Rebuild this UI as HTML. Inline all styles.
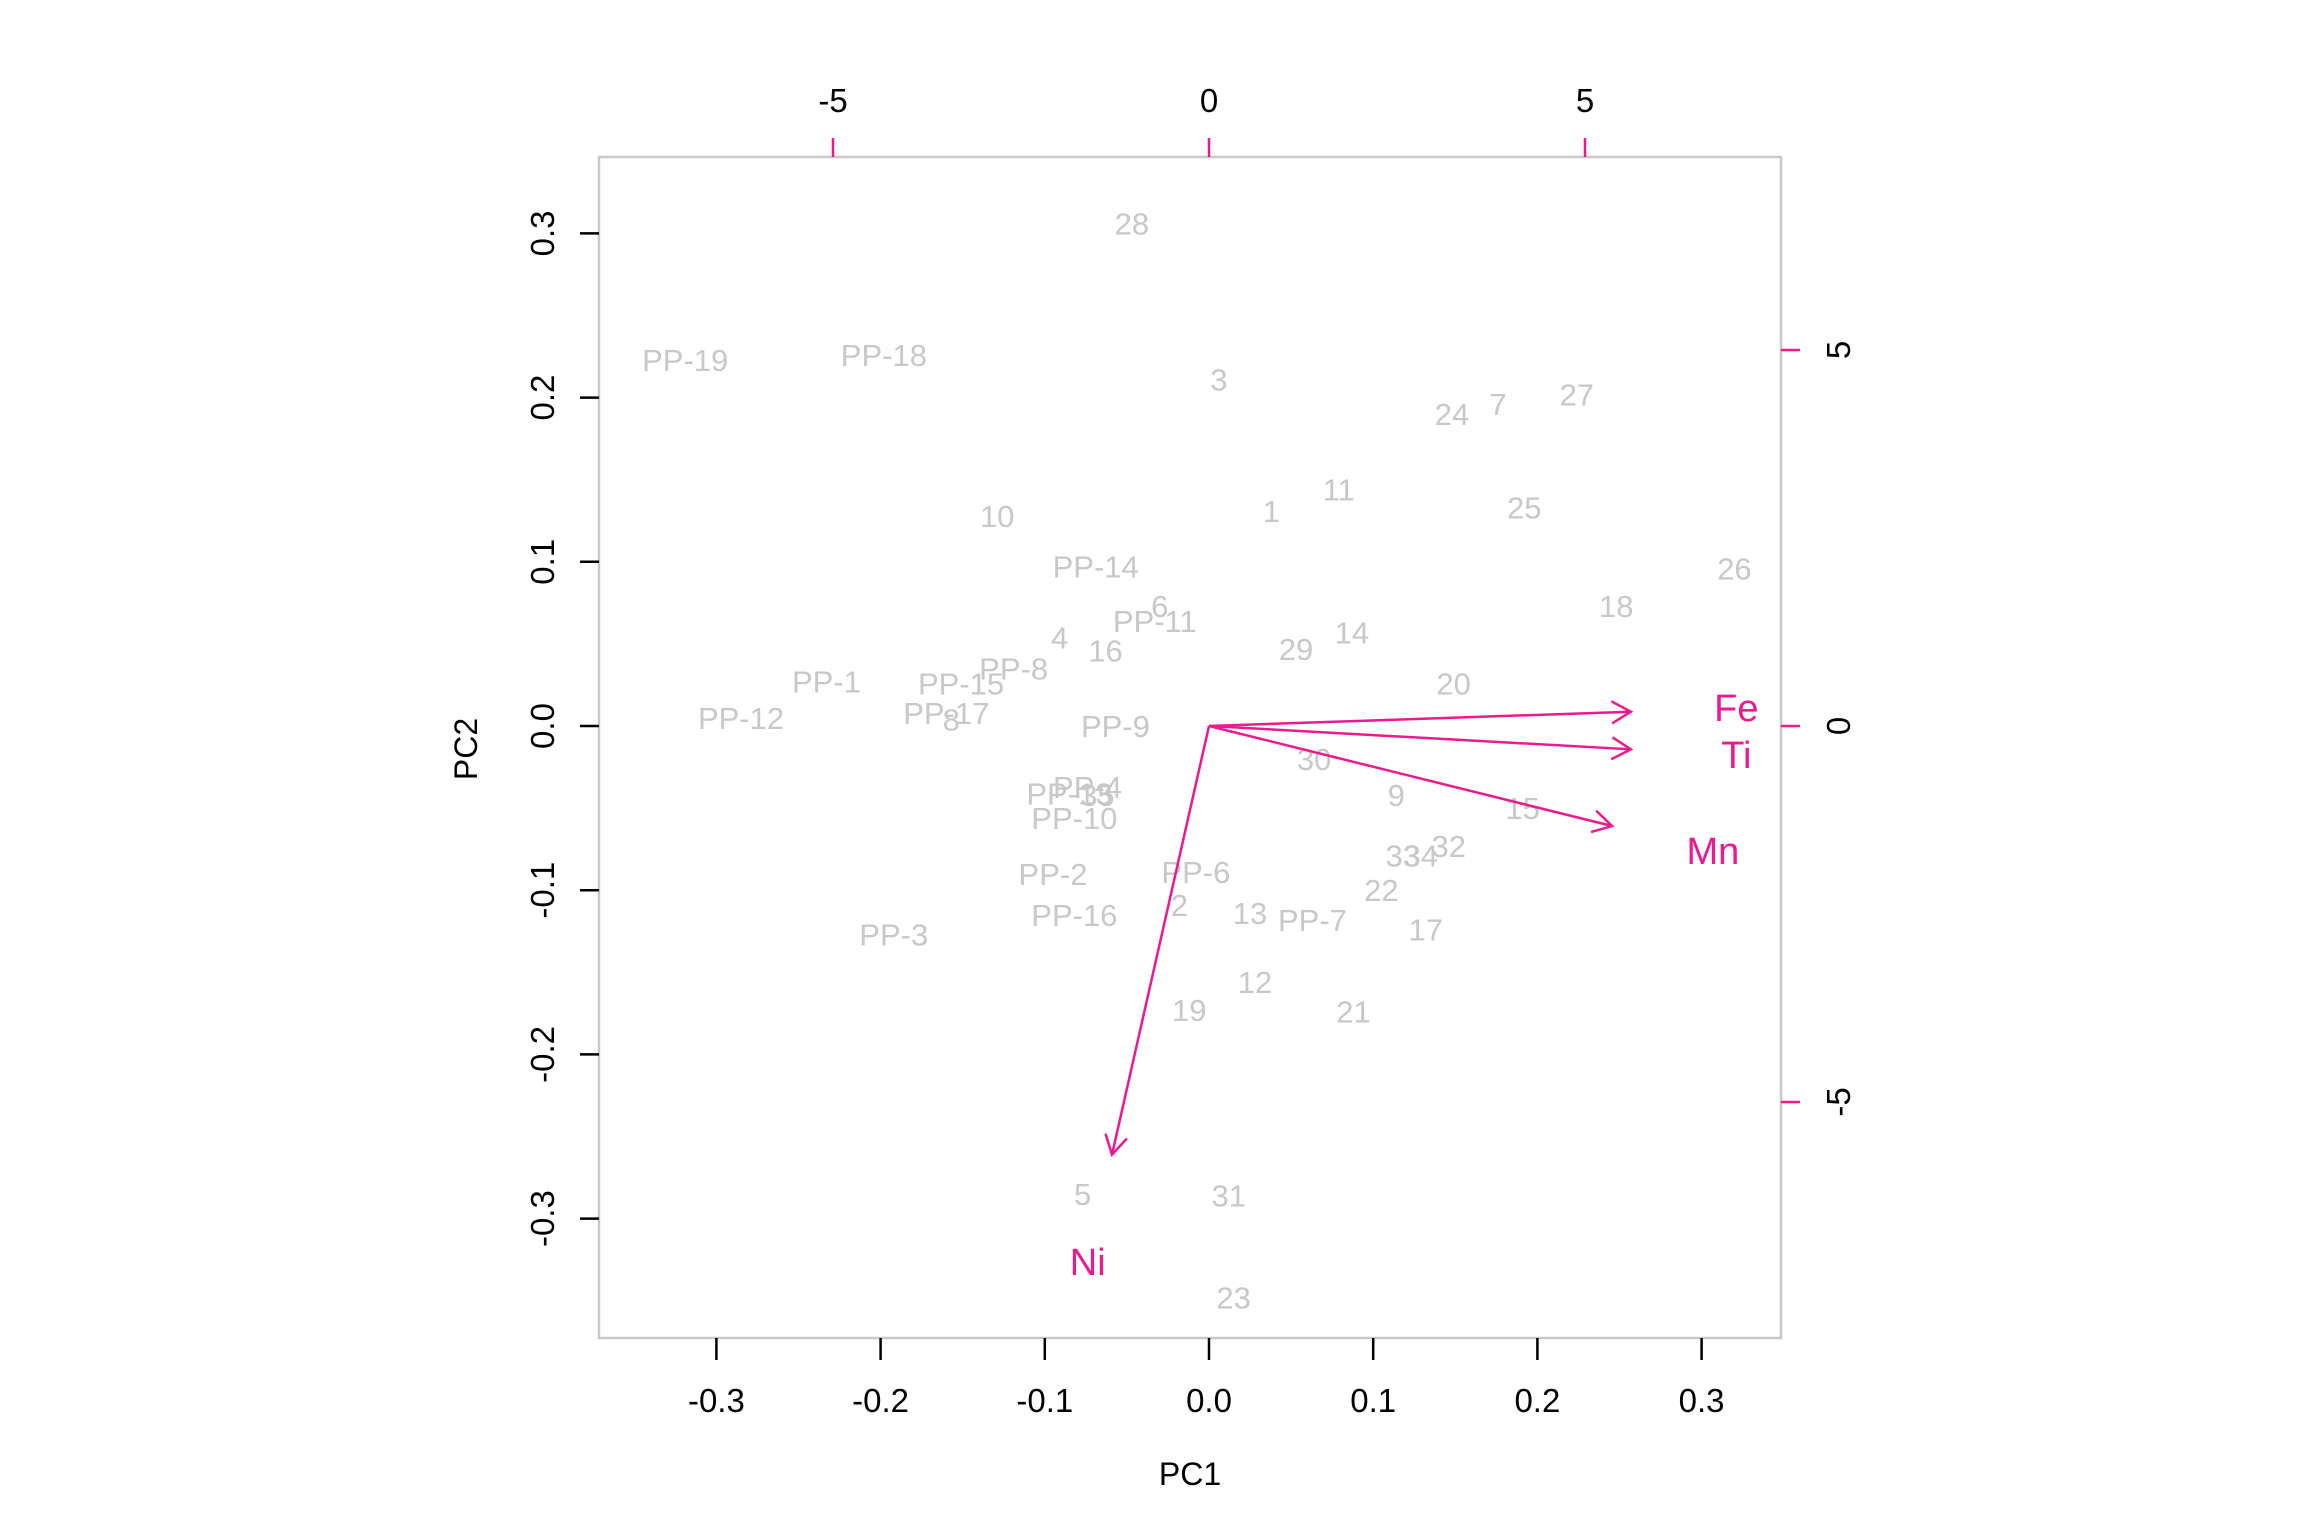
<!DOCTYPE html>
<html><head><meta charset="utf-8"><style>
html,body{margin:0;padding:0;background:#fff;}
svg{display:block;font-family:"Liberation Sans",Arial,sans-serif;}
</style></head><body>
<svg id="chart" width="2304" height="1536" viewBox="0 0 2304 1536" xmlns="http://www.w3.org/2000/svg">
<rect x="599" y="157" width="1182" height="1181" fill="none" stroke="#c8c8c8" stroke-width="2.5"/>
<text x="1190" y="1485" font-size="32" text-anchor="middle">PC1</text>
<text transform="translate(477,749) rotate(-90)" font-size="32" text-anchor="middle">PC2</text>
<g id="g-ticks"></g>
<g id="g-points"></g>
<g id="g-arrows"></g>
</svg>
<script>
const pointLabels = ["28","PP-19","PP-18","3","24","7","27","11","1","25","10","PP-14","26","18","6","PP-11","4","16","29","14","PP-8","PP-1","PP-15","20","PP-12","PP-17","8","PP-9","30","9","15","PP-13","PP-4","35","PP-10","33","34","32","PP-2","PP-6","22","2","13","PP-7","PP-16","17","PP-3","12","19","21","5","31","23"];
const pc1Values = [-0.047,-0.319,-0.198,0.006,0.148,0.176,0.224,0.079,0.038,0.192,-0.129,-0.069,0.320,0.248,-0.030,-0.033,-0.091,-0.063,0.053,0.087,-0.119,-0.233,-0.151,0.149,-0.285,-0.160,-0.157,-0.057,0.064,0.114,0.191,-0.085,-0.074,-0.068,-0.082,0.118,0.129,0.146,-0.095,-0.008,0.105,-0.018,0.025,0.063,-0.082,0.132,-0.192,0.028,-0.012,0.088,-0.077,0.012,0.015];
const pc2Values = [0.306,0.223,0.226,0.211,0.190,0.196,0.202,0.144,0.131,0.133,0.128,0.097,0.096,0.073,0.073,0.064,0.054,0.046,0.047,0.057,0.035,0.027,0.026,0.026,0.005,0.008,0.004,0.000,-0.020,-0.042,-0.050,-0.041,-0.037,-0.042,-0.056,-0.079,-0.079,-0.073,-0.090,-0.089,-0.100,-0.109,-0.114,-0.118,-0.115,-0.124,-0.127,-0.156,-0.173,-0.174,-0.285,-0.286,-0.348];
const varNames = ["Fe","Ti","Mn","Ni"];
const loadX = [5.61,5.61,5.36,-1.29];
const loadY = [0.19,-0.31,-1.33,-5.70];
const pcTicks = [-0.3,-0.2,-0.1,0.0,0.1,0.2,0.3];
const pcTickLabels = ["-0.3","-0.2","-0.1","0.0","0.1","0.2","0.3"];
const loadTicks = [-5,0,5];
const loadTickLabels = ["-5","0","5"];

const NS="http://www.w3.org/2000/svg";
const X0=1209, Y0=726, PCU=1642, LU=75.2;
const xs=v=>X0+v*PCU, ys=v=>Y0-v*PCU;
const xl=v=>X0+v*LU, yl=v=>Y0-v*LU;
const PINK="#ec1a8c";
function mk(tag,attrs,parent){const e=document.createElementNS(NS,tag);for(const k in attrs)e.setAttribute(k,attrs[k]);parent.appendChild(e);return e;}
const gt=document.getElementById('g-ticks');
pcTicks.forEach((t,i)=>{
  let l=mk('line',{x1:xs(t),x2:xs(t),y1:1338,y2:1360,stroke:'#000','stroke-width':2.5},gt);
  
  
  let tx=mk('text',{x:xs(t),y:1412,'font-size':33,'text-anchor':'middle'},gt);tx.textContent=pcTickLabels[i];
  
  
  let l2=mk('line',{x1:580,x2:599,y1:ys(t),y2:ys(t),stroke:'#000','stroke-width':2.5},gt);
  
  
  let t2=mk('text',{transform:`translate(554,${ys(t)}) rotate(-90)`,'font-size':33,'text-anchor':'middle'},gt);t2.textContent=pcTickLabels[i];
  
  
});
loadTicks.forEach((t,i)=>{
  let l=mk('line',{x1:xl(t),x2:xl(t),y1:138,y2:157,stroke:PINK,'stroke-width':2.5},gt);
  
  
  let tx=mk('text',{x:xl(t),y:112,'font-size':33,'text-anchor':'middle'},gt);tx.textContent=loadTickLabels[i];
  
  
  let l2=mk('line',{x1:1781,x2:1800,y1:yl(t),y2:yl(t),stroke:PINK,'stroke-width':2.5},gt);
  
  
  let t2=mk('text',{transform:`translate(1850,${yl(t)}) rotate(-90)`,'font-size':33,'text-anchor':'middle'},gt);t2.textContent=loadTickLabels[i];
  
  
});
const gp=document.getElementById('g-points');
pointLabels.forEach((lab,i)=>{
  let t=mk('text',{x:xs(pc1Values[i]),y:ys(pc2Values[i])+11,'font-size':31,'text-anchor':'middle',fill:'#c8c8c8'},gp);
  t.textContent=lab;
  
  
});
const ga=document.getElementById('g-arrows');
varNames.forEach((n,i)=>{
  const x2=xl(loadX[i]),y2=yl(loadY[i]);
  let l=mk('line',{x1:X0,y1:Y0,x2:x2,y2:y2,stroke:PINK,'stroke-width':2.5},ga);
  
  
  const a=Math.atan2(y2-Y0,x2-X0),L=22,s=Math.PI/6;
  let h=mk('path',{d:`M${x2-L*Math.cos(a-s)},${y2-L*Math.sin(a-s)} L${x2},${y2} L${x2-L*Math.cos(a+s)},${y2-L*Math.sin(a+s)}`,fill:'none',stroke:PINK,'stroke-width':2.5},ga);
  
  
  let t=mk('text',{x:xl(loadX[i]*1.25),y:yl(loadY[i]*1.25)+13,'font-size':38,'text-anchor':'middle',fill:PINK},ga);
  t.textContent=n;
  
  
});
</script>
</body></html>
